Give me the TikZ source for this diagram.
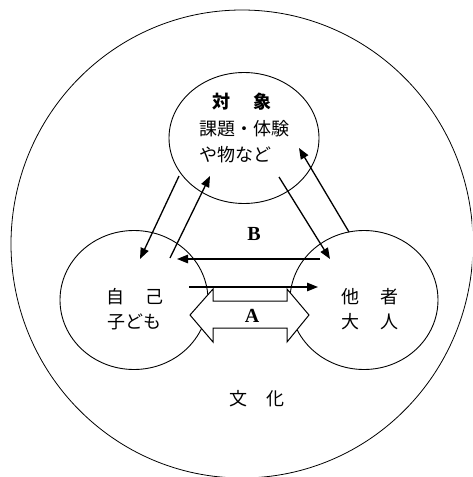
\documentclass[tikz,border=0pt]{standalone}
\usepackage{fontspec}
\setmainfont{Liberation Serif}
\newfontfamily\jp{Noto Sans CJK JP}
\usetikzlibrary{shapes.geometric,arrows.meta}
\tikzset{
  ring/.style={draw, ellipse, line width=0.9pt, inner sep=0pt},
  jtext/.style={font=\jp\fontsize{18}{20}\selectfont, inner sep=0pt},
  jbold/.style={font=\jp\bfseries\fontsize{18}{20}\selectfont, inner sep=0pt},
  lab/.style={font=\bfseries\fontsize{20}{20}\selectfont, inner sep=0pt},
  flow/.style={line width=1.3pt, -{Triangle[length=11pt,width=8.5pt]}}
}
\begin{document}
\begin{tikzpicture}[x=1pt,y=-1pt]
\useasboundingbox (0,0) rectangle (472,477);
\clip (0,0) rectangle (472,477);
\fill[white] (0,0) rectangle (472,477);
% outer culture circle
\node[ring, line width=0.8pt, minimum width=462pt, minimum height=468pt] (culture) at (242,244) {};
% three circles
\node[ring, minimum width=150pt, minimum height=131pt] (obj) at (244,138) {};
\node[ring, minimum width=148pt, minimum height=139pt] (self) at (134,300) {};
\node[ring, minimum width=148pt, minimum height=139pt] (other) at (364,300) {};
% texts
\node[jbold] (t1) at (242,102) {対\hspace{23pt}象};
\node[jtext, anchor=west] (t2) at (199,129) {課題・体験};
\node[jtext, anchor=west] (t3) at (199,155) {や物など};
\node[jtext] (t4) at (135,297) {自\hspace{22pt}己};
\node[jtext] (t5) at (134,322) {子ども};
\node[jtext] (t6) at (370,297) {他\hspace{22pt}者};
\node[jtext] (t7) at (370,322) {大\hspace{22pt}人};
\node[jtext] (t8) at (257,399) {文\hspace{20pt}化};
% arrow end points
\coordinate (a1s) at (179,176); \coordinate (a1e) at (140,259);
\coordinate (a2s) at (170,258); \coordinate (a2e) at (210,176);
\coordinate (a3s) at (279,177); \coordinate (a3e) at (330,259);
\coordinate (a4s) at (349,232); \coordinate (a4e) at (299,148);
\coordinate (bs) at (320,259); \coordinate (be) at (177,259);
\coordinate (cs) at (189,287); \coordinate (ce) at (318,287);
\draw[flow] (a1s) -- (a1e);
\draw[flow] (a2s) -- (a2e);
\draw[flow] (a3s) -- (a3e);
\draw[flow] (a4s) -- (a4e);
\draw[flow] (bs) -- (be);
% double block arrow A
\draw[fill=white, line width=1pt, line join=miter]
  (190,315) -- (213,289) -- (213,301) -- (287,301) -- (287,289) -- (309,315)
  -- (287,342) -- (287,328) -- (213,328) -- (213,342) -- cycle;
\draw[flow] (cs) -- (ce);
\node[lab] (la) at (252,316) {A};
\node[lab] (lb) at (254,234) {B};
\end{tikzpicture}
\end{document}
